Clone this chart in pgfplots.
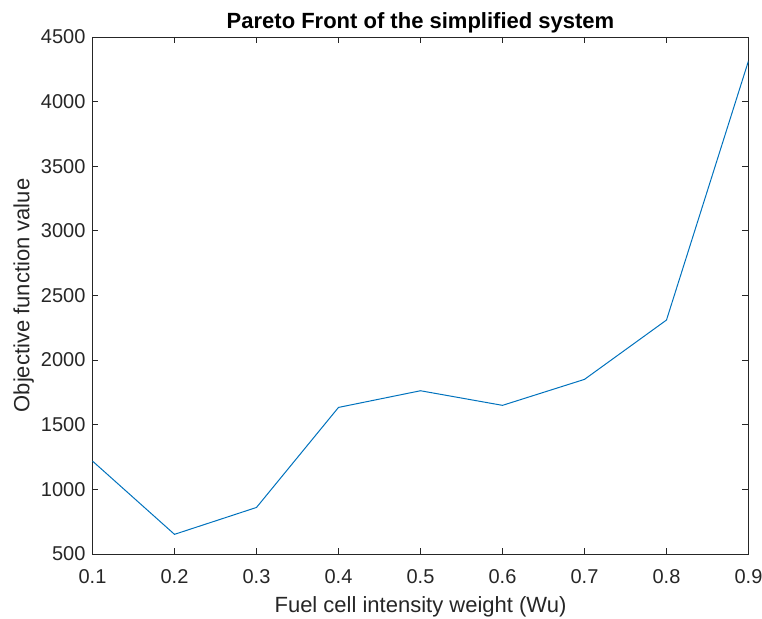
\documentclass[border=0pt]{standalone}
\usepackage{pgfplots}
\pgfplotsset{compat=1.18}
\usepackage{fontspec}
\setmainfont{Liberation Sans}
\definecolor{mlblue}{HTML}{0072BD}
\definecolor{axgray}{HTML}{262626}
\begin{document}
\begin{tikzpicture}
\useasboundingbox (-46.25pt,-32.5pt) rectangle (334.75pt,277pt);
\begin{axis}[
  at={(0,0)}, anchor=south west,
  scale only axis,
  width=328pt, height=258.5pt,
  xmin=0.1, xmax=0.9, ymin=500, ymax=4500,
  xtick={0.1,0.2,...,0.9},
  ytick={500,1000,...,4500},
  xticklabel style={/pgf/number format/fixed,/pgf/number format/precision=1, yshift=-4pt},
  yticklabel style={/pgf/number format/1000 sep={}},
  /pgf/number format/assume math mode=true,
  tick align=inside,
  major tick length=3pt,
  tick style={axgray, line width=0.4pt},
  axis line style={axgray, line width=0.4pt},
  ticklabel style={font=\fontsize{10}{12}\selectfont, text=axgray},
  xlabel={Fuel cell intensity weight (Wu)},
  ylabel={Objective function value},
  label style={font=\fontsize{11}{13}\selectfont, text=axgray},
  xlabel style={at={(axis description cs:0.5,0)}, anchor=base, yshift=-29.5pt},
  ylabel style={at={(axis description cs:0,0.5)}, anchor=base, yshift=31.5pt},
  title={\bfseries Pareto Front of the simplified system},
  title style={at={(axis description cs:0.5,1)}, anchor=base, yshift=-2pt,
    font=\fontsize{11}{13}\selectfont, text=black},
]
\addplot[mlblue, line width=0.5pt] coordinates {
  (0.1,1219) (0.2,652) (0.3,860) (0.4,1634) (0.5,1763)
  (0.6,1650) (0.7,1851) (0.8,2310) (0.9,4315)
};
\end{axis}
\end{tikzpicture}
\end{document}
